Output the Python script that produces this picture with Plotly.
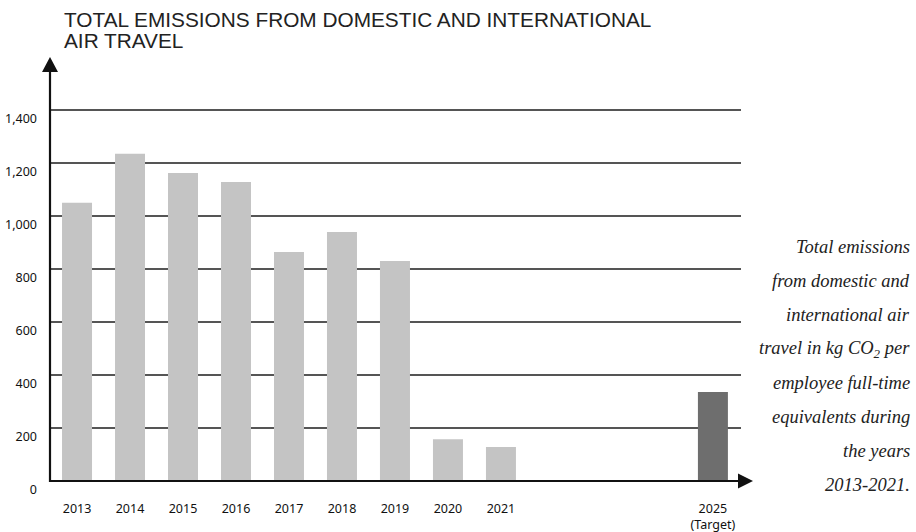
import plotly.graph_objects as go

# Emissions in kg CO2 per employee FTE
years = [2013, 2014, 2015, 2016, 2017, 2018, 2019, 2020, 2021]
emissions = [1050, 1235, 1162, 1128, 864, 940, 830, 158, 128]
target_year = [2025]
target_value = [336]

tick_years = years + target_year
tick_labels = [str(y) for y in years] + ["2025<br>(Target)"]
y_ticks = [0, 200, 400, 600, 800, 1000, 1200, 1400]

title_lines = ["TOTAL EMISSIONS FROM DOMESTIC AND INTERNATIONAL", "AIR TRAVEL"]

note_lines = [
    "Total emissions",
    "from domestic and",
    "international air",
    "travel in kg CO<sub>2</sub> per",
    "employee full-time",
    "equivalents during",
    "the years",
    "2013-2021.",
]

W, H = 916, 532
ML, MR, MT, MB = 50, 175, 72, 51
PW, PH = W - ML - MR, H - MT - MB


def px_x(p):
    return (p - ML) / PW


def px_y(p):
    return (H - MB - p) / PH


fig = go.Figure()
fig.add_trace(go.Bar(x=years, y=emissions, width=0.566,
                     marker=dict(color="#c4c4c4", line=dict(width=0)),
                     hoverinfo="x+y"))
fig.add_trace(go.Bar(x=target_year, y=target_value, width=0.566,
                     marker=dict(color="#6e6e6e", line=dict(width=0)),
                     hoverinfo="x+y"))

axis_font = dict(family="Noto Sans, Open Sans, sans-serif", size=12.5, color="#111")

fig.update_layout(
    template="none",
    width=W, height=H,
    margin=dict(l=ML, r=MR, t=MT, b=MB, pad=0, autoexpand=False),
    paper_bgcolor="white", plot_bgcolor="white",
    showlegend=False, barmode="overlay",
    xaxis=dict(range=[2012.49, 2025.53], tickvals=tick_years, ticktext=tick_labels,
               showgrid=False, zeroline=False, showline=False, ticks="",
               automargin=False, tickfont=axis_font, ticklabelstandoff=18),
    yaxis=dict(range=[0, 1543.4], tickvals=y_ticks, tickformat=",",
               showgrid=True, gridcolor="#555", gridwidth=1.5,
               zeroline=False, showline=False, ticks="", automargin=False,
               tickfont=axis_font, ticklabelstandoff=12, ticklabelshift=9),
)

# Axis lines with arrowheads
shapes = [
    dict(type="line", xref="paper", yref="paper",
         x0=px_x(50), x1=px_x(50), y0=px_y(482), y1=px_y(68),
         line=dict(color="#111", width=2.2), layer="above"),
    dict(type="path", xref="paper", yref="paper", layer="above",
         path=f"M {px_x(42)} {px_y(72)} L {px_x(50)} {px_y(57)} L {px_x(58)} {px_y(72)} Z",
         fillcolor="#111", line=dict(width=0)),
    dict(type="line", xref="paper", yref="paper",
         x0=px_x(49), x1=px_x(742), y0=px_y(481), y1=px_y(481),
         line=dict(color="#111", width=2.2), layer="above"),
    dict(type="path", xref="paper", yref="paper", layer="above",
         path=f"M {px_x(738)} {px_y(473.5)} L {px_x(753)} {px_y(481)} L {px_x(738)} {px_y(488.5)} Z",
         fillcolor="#111", line=dict(width=0)),
]
fig.update_layout(shapes=shapes)

# Title, two lines set close together
title_font = dict(family="Liberation Sans, Arial, sans-serif", size=20.8, color="#222")
for i, line in enumerate(title_lines):
    fig.add_annotation(
        text=line, xref="paper", yref="paper", x=px_x(62), y=px_y(19 + 21 * i),
        xanchor="left", yanchor="middle", align="left", showarrow=False,
        font=title_font,
    )

# Side note, one annotation per line for even spacing
note_font = dict(family="Liberation Serif, serif", size=18.5, color="#222")
for i, line in enumerate(note_lines):
    fig.add_annotation(
        text=f"<i>{line}</i>", xref="paper", yref="paper",
        x=px_x(912), y=px_y(247 + 34 * i), xanchor="right", yanchor="middle",
        showarrow=False, font=note_font, align="right",
    )

fig.write_html("out.html")
